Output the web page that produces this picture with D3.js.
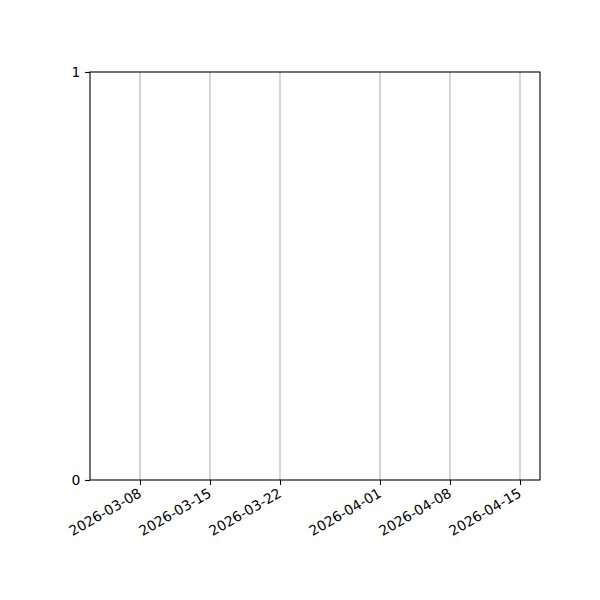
<!DOCTYPE html>
<html>
<head>
<meta charset="utf-8">
<script src="https://cdn.jsdelivr.net/npm/d3@7"></script>
<style>
  body { margin: 0; background: #fff; }
  text { font-family: "DejaVu Sans", sans-serif; font-size: 13.9px; fill: #000; }
</style>
</head>
<body>
<div id="figure"></div>
<script>
// empty date chart: only axes and grid
var xStart = "2026-03-03";
var xEnd = "2026-04-17";
var xTicks = ["2026-03-08", "2026-03-15", "2026-03-22", "2026-04-01", "2026-04-08", "2026-04-15"];
var yTicks = [0, 1];
var seriesValues = [];

var width = 600, height = 600;
var margin = { top: 72, right: 60, bottom: 120, left: 90 };

var parse = d3.utcParse("%Y-%m-%d");
var fmt = d3.utcFormat("%Y-%m-%d");

var svg = d3.select("#figure")
    .append("svg")
    .attr("width", width)
    .attr("height", height);

var x = d3.scaleUtc()
    .domain([parse(xStart), parse(xEnd)])
    .range([margin.left, width - margin.right]);

var y = d3.scaleLinear()
    .domain([0, 1])
    .range([height - margin.bottom, margin.top]);

// vertical grid
svg.selectAll(".grid")
    .data(xTicks)
    .enter()
    .append("line")
    .attr("class", "grid")
    .attr("x1", function (d) { return x(parse(d)) })
    .attr("x2", function (d) { return x(parse(d)) })
    .attr("y1", y(0))
    .attr("y2", y(1))
    .attr("stroke", "#b0b0b0")
    .attr("stroke-width", 1.1);

var xAxis = svg.append("g")
    .attr("transform", "translate(0," + y(0) + ")")
    .call(d3.axisBottom(x)
        .tickValues(xTicks.map(parse))
        .tickFormat(fmt)
        .tickSize(4.9)
        .tickSizeOuter(0));
xAxis.select(".domain").remove();
xAxis.selectAll(".tick line").attr("stroke", "#000").attr("stroke-width", 1.1);
xAxis.selectAll(".tick text")
    .attr("y", 0)
    .attr("dy", 0)
    .attr("font-size", null)
    .attr("font-family", null)
    .style("text-anchor", "end")
    .attr("transform", "translate(2,16) rotate(-30)");

var yAxis = svg.append("g")
    .attr("transform", "translate(" + margin.left + ",0)")
    .call(d3.axisLeft(y)
        .tickValues(yTicks)
        .tickFormat(d3.format("d"))
        .tickSize(4.9)
        .tickSizeOuter(0));
yAxis.select(".domain").remove();
yAxis.selectAll(".tick line").attr("stroke", "#000").attr("stroke-width", 1.1);
yAxis.selectAll(".tick text")
    .attr("x", -9.7)
    .attr("dy", "0.35em")
    .attr("font-size", null)
    .attr("font-family", null);

// no data points to draw
svg.selectAll(".dot")
    .data(seriesValues)
    .enter()
    .append("circle")
    .attr("class", "dot");

// frame
svg.append("rect")
    .attr("x", margin.left)
    .attr("y", margin.top)
    .attr("width", width - margin.left - margin.right)
    .attr("height", height - margin.top - margin.bottom)
    .attr("fill", "none")
    .attr("stroke", "#000")
    .attr("stroke-width", 1.1);
</script>
</body>
</html>
